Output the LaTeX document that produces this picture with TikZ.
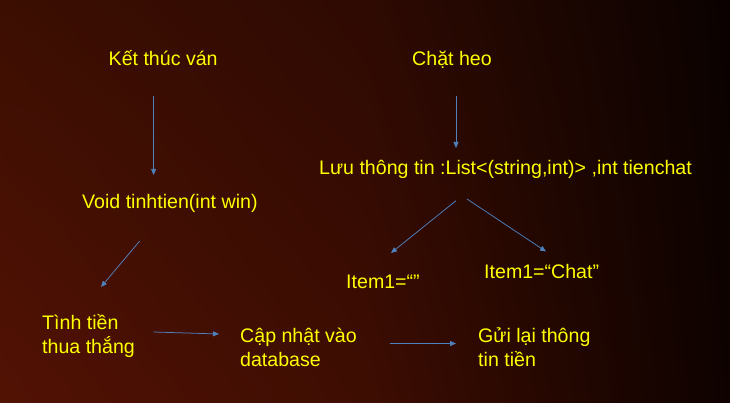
\documentclass[tikz,border=0pt]{standalone}
\usepackage{fontspec}
\setmainfont{Liberation Sans}
\usetikzlibrary{arrows.meta,shadings}
\definecolor{bgUL}{RGB}{60,14,2}
\definecolor{bgLL}{RGB}{82,18,4}
\definecolor{bgUM}{RGB}{46,10,2}
\definecolor{bgLM}{RGB}{62,13,2}
\definecolor{bgUR}{RGB}{10,2,0}
\definecolor{bgLR}{RGB}{14,2,0}
\definecolor{txt}{RGB}{255,255,0}
\definecolor{arrc}{RGB}{79,129,189}
\tikzset{
  lbl/.style={text=txt,inner sep=0pt,anchor=base west,font=\fontsize{19.6}{24}\selectfont},
  lbl2/.style={lbl,align=left},
  arr/.style={draw=arrc,line width=0.75pt,-{Triangle[length=6pt,width=5pt]}}
}
\begin{document}
\begin{tikzpicture}[x=1pt,y=-1pt]
\useasboundingbox (0,0) rectangle (730,403);
\shade[upper left=bgUL,lower left=bgLL,upper right=bgUM,lower right=bgLM] (0,0) rectangle (366,403);
\shade[upper left=bgUM,lower left=bgLM,upper right=bgUR,lower right=bgLR] (365,0) rectangle (730,403);
% labels
\node[lbl] (ket) at (108.5,66) {Kết thúc ván};
\node[lbl] (chat) at (412,66) {Chặt heo};
\node[lbl] (luu) at (319,175) {Lưu thông tin :List<(string,int)> ,int tienchat};
\node[lbl] (void) at (82,209) {Void tinhtien(int win)};
\node[lbl] (itema) at (346,288) {Item1=“”};
\node[lbl] (itemb) at (484,278) {Item1=“Chat”};
\node[lbl2] (tinh) at (42,353) {Tình tiền\\thua thắng};
\node[lbl2] (cap) at (240,366) {Cập nhật vào\\database};
\node[lbl2] (gui) at (478,366) {Gửi lại thông\\tin tiền};
% connector end points
\coordinate (a1s) at (153.6,96);   \coordinate (a1e) at (153.6,175);
\coordinate (a2s) at (456,96);     \coordinate (a2e) at (456,148);
\coordinate (a3s) at (139.7,241);  \coordinate (a3e) at (101,287);
\coordinate (a4s) at (456,200.7);  \coordinate (a4e) at (391,253);
\coordinate (a5s) at (467,199);    \coordinate (a5e) at (546,251.5);
\coordinate (a6s) at (153.6,332);  \coordinate (a6e) at (219,334);
\coordinate (a7s) at (390,343.5);  \coordinate (a7e) at (456,343.5);
% connectors
\draw[arr] (a1s) -- (a1e);
\draw[arr] (a2s) -- (a2e);
\draw[arr] (a3s) -- (a3e);
\draw[arr] (a4s) -- (a4e);
\draw[arr] (a5s) -- (a5e);
\draw[arr] (a6s) -- (a6e);
\draw[arr] (a7s) -- (a7e);
\end{tikzpicture}
\end{document}
